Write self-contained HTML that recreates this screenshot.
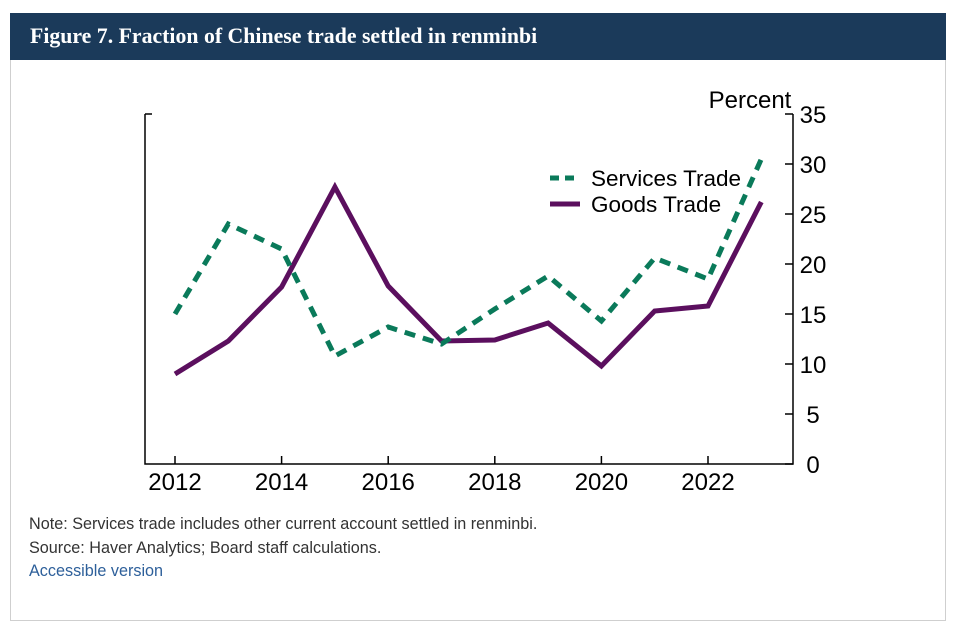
<!DOCTYPE html>
<html><head><meta charset="utf-8"><style>
body{margin:0;background:#fff;width:954px;height:636px;overflow:hidden;font-family:"Liberation Sans",sans-serif}
#card{position:absolute;left:10px;top:13px;width:936px;height:608px;border:1px solid #cfcfcf;box-sizing:border-box}
#hdr{position:absolute;left:10px;top:13px;width:936px;height:47px;background:#1b3a5a;color:#fff;font-family:"Liberation Serif",serif;font-weight:bold;font-size:21.8px;line-height:47px;padding-left:20px;box-sizing:border-box}
.note{position:absolute;left:29px;font-size:16.2px;color:#333}
</style></head><body>
<div id="card"></div>
<div id="hdr">Figure 7. Fraction of Chinese trade settled in renminbi</div>
<svg id="chart" width="954" height="636" style="position:absolute;left:0;top:0"></svg>
<div class="note" style="top:515px">Note: Services trade includes other current account settled in renminbi.</div>
<div class="note" style="top:539px">Source: Haver Analytics; Board staff calculations.</div>
<div class="note" style="top:562px;color:#2d5f9a">Accessible version</div>
<script>
const years=[2012,2013,2014,2015,2016,2017,2018,2019,2020,2021,2022,2023];
const services=[15.0,24.0,21.5,10.8,13.7,12.0,15.5,18.8,14.3,20.6,18.5,30.5];
const goods=[9.0,12.3,17.7,27.7,17.8,12.3,12.4,14.1,9.8,15.3,15.8,26.2];
const xTicks=[2012,2014,2016,2018,2020,2022];
const yTicks=[0,5,10,15,20,25,30,35];
const NS='http://www.w3.org/2000/svg';
const svg=document.getElementById('chart');
const x=v=>175+(v-2012)*53.3;
const y=v=>464-v*10;
function mk(t,a,p){const e=document.createElementNS(NS,t);for(const k in a)e.setAttribute(k,a[k]);(p||svg).appendChild(e);return e;}
let e;
e=mk('path',{d:'M145 114 H152 M145 114 V464 H793 V114',fill:'none',stroke:'#000','stroke-width':1.5});


xTicks.forEach(t=>{
 e=mk('line',{x1:x(t),x2:x(t),y1:464,y2:456,stroke:'#000','stroke-width':1.5});
 
 
 e=mk('text',{x:x(t),y:490,'text-anchor':'middle','font-size':24,fill:'#000'});e.textContent=t;
 
 
});
yTicks.forEach(t=>{
 e=mk('line',{x1:785,x2:793,y1:y(t),y2:y(t),stroke:'#000','stroke-width':1.5});
 
 
 e=mk('text',{x:813,y:y(t)+9,'text-anchor':'middle','font-size':24,fill:'#000'});e.textContent=t;
 
 
});
e=mk('text',{x:750,y:108,'text-anchor':'middle','font-size':24,fill:'#000'});e.textContent='Percent';


function line(vals,col,dash,name){
 const p=mk('polyline',{points:vals.map((v,i)=>x(years[i])+','+y(v)).join(' '),fill:'none',stroke:col,'stroke-width':5,'stroke-dasharray':dash,'stroke-linejoin':'miter'});
 
 
}
line(goods,'#5b0f5e','none','goods-trade-line');
line(services,'#0a7a5a','11 8','services-trade-line');
e=mk('line',{x1:550,x2:580,y1:178,y2:178,stroke:'#0a7a5a','stroke-width':5,'stroke-dasharray':'9 6'});


e=mk('text',{x:591,y:186,'font-size':22.5,fill:'#000'});e.textContent='Services Trade';


e=mk('line',{x1:550,x2:580,y1:204,y2:204,stroke:'#5b0f5e','stroke-width':5});


e=mk('text',{x:591,y:212,'font-size':22.5,fill:'#000'});e.textContent='Goods Trade';


</script>
</body></html>
